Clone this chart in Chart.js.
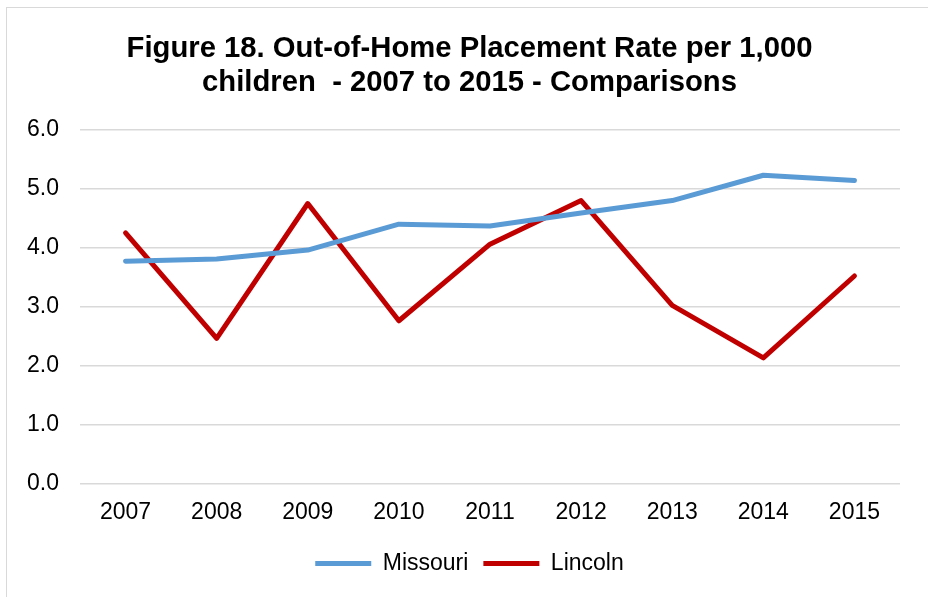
<!DOCTYPE html>
<html>
<head>
<meta charset="utf-8">
<script src="https://cdn.jsdelivr.net/npm/chart.js@4.4.0/dist/chart.umd.min.js"></script>
<style>
  html, body { margin: 0; padding: 0; background: #fff; }
  #wrap { position: absolute; left: 6px; top: 7px; width: 930px; height: 600px; border: 1px solid #d9d9d9; box-sizing: border-box; }
  #c { position: absolute; left: -7px; top: -8px; }
</style>
</head>
<body>
<div id="wrap"><canvas id="c" width="928" height="597"></canvas></div>
<script>
const categories = ["2007", "2008", "2009", "2010", "2011", "2012", "2013", "2014", "2015"];
const missouri = [3.77, 3.81, 3.96, 4.40, 4.37, 4.59, 4.80, 5.23, 5.14];
const lincoln = [4.25, 2.46, 4.75, 2.76, 4.06, 4.80, 3.02, 2.13, 3.52];
const yTicks = [0, 1, 2, 3, 4, 5, 6];
const titleLines = ["Figure 18. Out-of-Home Placement Rate per 1,000", "children  - 2007 to 2015 - Comparisons"];

const canvas = document.getElementById('c');
canvas.style.width = '928px';
canvas.style.height = '597px';
const FONT = 'Liberation Sans, Arial, sans-serif';

new Chart(canvas, {
  type: 'line',
  data: {
    labels: categories,
    datasets: [
      { label: 'Missouri', data: missouri, borderColor: '#5b9bd5', backgroundColor: '#5b9bd5', borderWidth: 5, pointRadius: 0, tension: 0, borderCapStyle: 'round', borderJoinStyle: 'round' },
      { label: 'Lincoln', data: lincoln, borderColor: '#c00000', backgroundColor: '#c00000', borderWidth: 5, pointRadius: 0, tension: 0, borderCapStyle: 'round', borderJoinStyle: 'round' }
    ]
  },
  options: {
    responsive: false,
    animation: false,
    devicePixelRatio: 1,
    layout: { padding: { left: 27, right: 16, top: 32, bottom: 12 } },
    plugins: {
      title: {
        display: true,
        text: titleLines,
        color: '#000',
        font: { family: FONT, size: 29.25, weight: 'bold', lineHeight: 1.16 },
        padding: { top: 0, bottom: 30 }
      },
      legend: {
        position: 'bottom',
        labels: {
          usePointStyle: true,
          pointStyle: 'line',
          pointStyleWidth: 56,
          boxWidth: 56,
          color: '#000',
          font: { family: FONT, size: 23 },
          padding: 15
        }
      },
      tooltip: { enabled: false }
    },
    scales: {
      x: {
        offset: true,
        afterFit: s => { s.height = s.height - 5; },
        grid: { display: false, drawTicks: false },
        border: { display: false },
        ticks: { color: '#000', font: { family: FONT, size: 23 }, padding: 15.5 }
      },
      y: {
        min: yTicks[0], max: yTicks[yTicks.length - 1],
        afterBuildTicks: s => { s.ticks = yTicks.map(v => ({ value: v })); },
        afterFit: s => { s.width = 53; },
        grid: { color: '#d9d9d9', lineWidth: 1.5, drawTicks: false },
        border: { display: false },
        ticks: { color: '#000', padding: 21, font: { family: FONT, size: 23 }, callback: v => v.toFixed(1) }
      },
      yRight: {
        position: 'right',
        min: yTicks[0], max: yTicks[yTicks.length - 1],
        afterFit: s => { s.width = 12; },
        grid: { display: false, drawTicks: false },
        border: { display: false },
        ticks: { display: false }
      }
    }
  }
});
</script>
</body>
</html>
